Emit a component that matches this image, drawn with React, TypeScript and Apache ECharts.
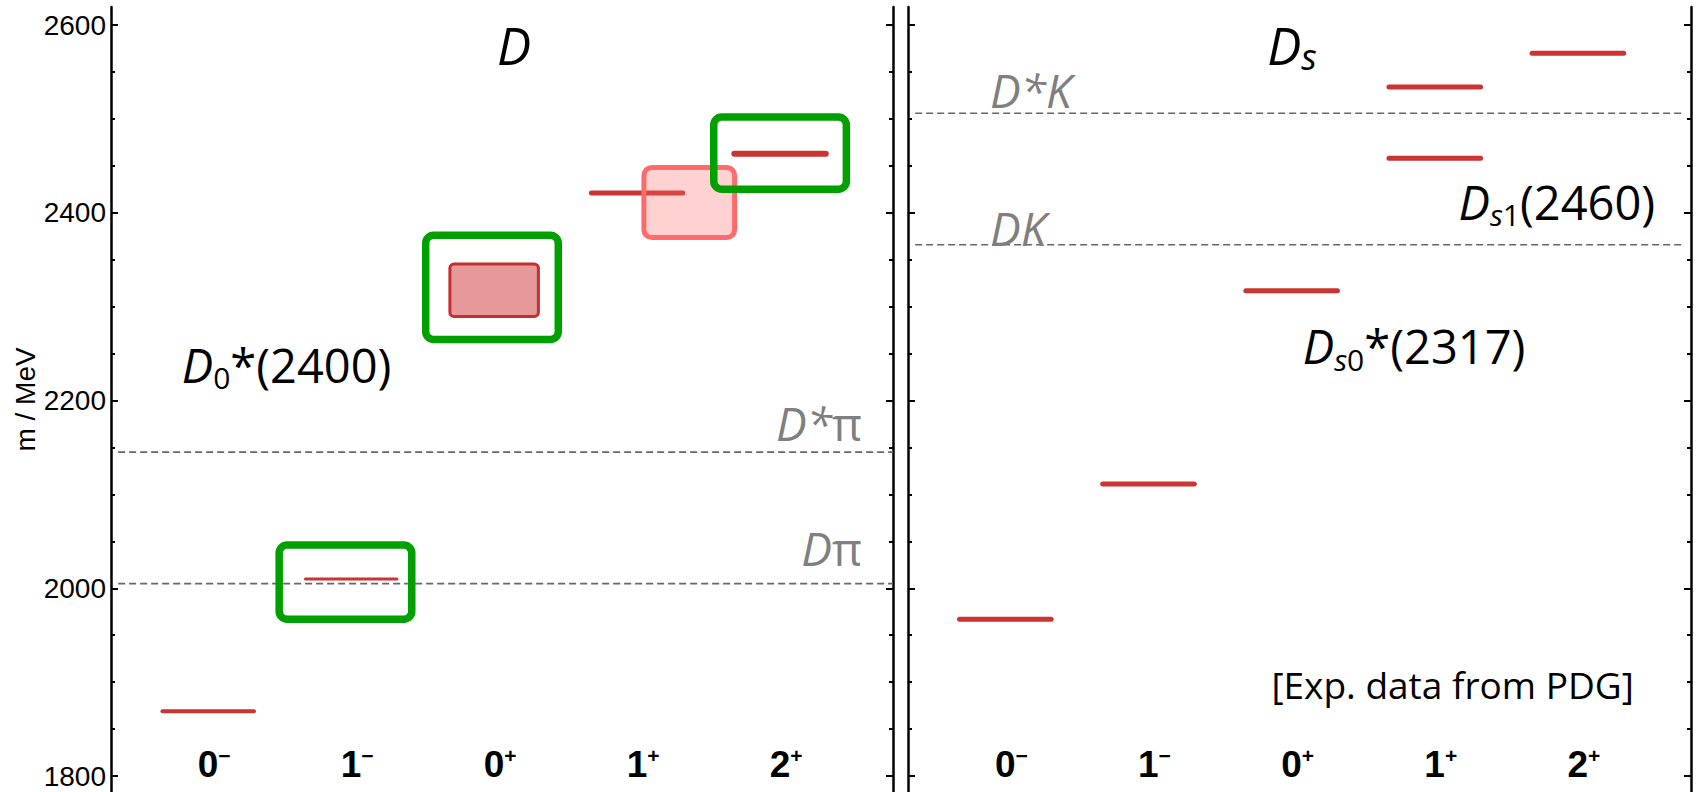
import React, { useEffect, useRef } from 'react';
import * as echarts from 'echarts';

// ---- categories (J^P) ----
const jpSpin = ['0', '1', '0', '1', '2'];
const jpParity = ['−', '−', '+', '+', '+'];
const jpIndex = [0, 1, 2, 3, 4];

// ---- axis ticks (MeV) ----
const yMajorTicks = [1800, 2000, 2200, 2400, 2600];
const yMinorTicks = [1850, 1900, 1950, 2050, 2100, 2150, 2250, 2300, 2350, 2450, 2500, 2550];

// ---- D mesons ----
const dLevelJP = [0, 1, 3, 4];
const dLevelMass = [1869, 2010, 2421, 2463];
// broad states drawn as mass bands: J^P-axis extent and mass extent
const dBandFrom = [1.68, 3.03];
const dBandTo = [2.32, 3.7];
const dBandLow = [2288, 2371];
const dBandHigh = [2347, 2451];
// highlighted states (green frames)
const dMarkJP = [0.96, 1.985, 4.0];
const dMarkLow = [1963, 2261, 2421];
const dMarkHigh = [2050, 2380, 2506];
// thresholds
const dThreshNames = ['{gi|D}{gn|π}', '{gi|D*}{gn|π}'];
const dThreshMass = [2005, 2145];

// ---- Ds mesons ----
const dsLevelJP = [0, 1, 2, 3, 3, 4];
const dsLevelMass = [1967, 2111, 2317, 2458, 2534, 2570];
const dsThreshNames = ['{gi|DK}', '{gi|D*K}'];
const dsThreshMass = [2366, 2506];

// ---- annotations ----
const dNotes = ['{i|D}{sub|0}{n|*(2400)}'];
const dsNotes = ['{i|D}{subi|s}{sub|0}{n|*(2317)}', '{i|D}{subi|s}{sub|1}{n|(2460)}', '{sm|[Exp. data from PDG]}'];
const panelTitles = ['{t|D}', '{t|D}{tsub|s}'];

// ---- layout / style (not data) ----
const X_MIN = -0.68;
const X_MAX = 4.79;
const Y_MIN = 1783;
const Y_MAX = 2619.2;
const LEVEL_HALF = 0.32;
const MARK_HALF = 0.49;
const RED = '#cc3333';
const GRAY = '#7f7f7f';
const SANS = 'Liberation Sans, Arial, sans-serif';
const TEXT_FONT = 'Open Sans, Noto Sans, sans-serif';
const dLevelWidth = [4, 3, 5, 6];
const dsLevelWidth = [5, 5, 5, 5, 5, 5];
const dBandFill = ['rgba(204,51,51,0.5)', 'rgba(255,102,102,0.3)'];
const dBandStroke = ['#c62f2f', '#ff6a6a'];
const dBandLine = [3, 5];
const dBandRadius = [4, 8];
const dThreshLabelAt = [[4.572, 2043], [4.572, 2176]];
const dsThreshLabelAt = [[-0.107, 2384], [-0.107, 2531]];
const dNoteAt = [[-0.185, 2238]];
const dsNoteAt = [[2.078, 2258], [3.166, 2412], [4.39, 1897]];
const dNoteAlign = ['left'];
const dsNoteAlign = ['left', 'left', 'right'];
const titleAt = [[2.02, 2579], [1.83, 2579]];

const tok = (size: number, lh: number, color: string, italic: boolean, va?: string) => {
  const s: any = { fontFamily: TEXT_FONT, fontSize: size, lineHeight: lh, fill: color, color };
  if (italic) s.fontStyle = 'italic';
  if (va) s.verticalAlign = va;
  return s;
};

const richText = {
  i: tok(47, 56, '#000', true),
  n: tok(47, 56, '#000', false),
  sub: tok(30, 23, '#000', false, 'bottom'),
  subi: tok(30, 23, '#000', true, 'bottom'),
  sm: tok(37, 46, '#000', false),
  t: tok(51, 60, '#000', true),
  tsub: tok(36, 26, '#000', true, 'bottom'),
  gi: tok(46, 56, GRAY, true),
  gn: tok(46, 56, GRAY, false),
};

function yAxes(g: number, withLabels: boolean) {
  const mk = (pos: string, major: boolean, labels: boolean) => ({
    type: 'value',
    gridIndex: g,
    position: pos,
    offset: 0,
    min: Y_MIN,
    max: Y_MAX,
    name: labels ? 'm / MeV' : '',
    nameLocation: 'middle',
    nameRotate: 90,
    nameGap: 72,
    nameTextStyle: { fontFamily: SANS, fontSize: 28, color: '#000' },
    axisLine: { show: major, onZero: false, lineStyle: { color: '#000', width: 2.5 } },
    axisTick: {
      show: true,
      inside: true,
      length: major ? 7 : 4,
      customValues: major ? yMajorTicks : yMinorTicks,
      lineStyle: { color: '#000', width: 2 },
    },
    axisLabel: {
      show: labels,
      customValues: yMajorTicks,
      margin: 5,
      fontFamily: SANS,
      fontSize: 28,
      color: '#000',
      formatter: (v: number) => String(Math.round(v)),
    },
    splitLine: { show: false },
  });
  return [
    mk('left', true, withLabels),
    mk('left', false, false),
    mk('right', true, false),
    mk('right', false, false),
  ];
}

function xAxis(g: number) {
  return {
    type: 'value',
    gridIndex: g,
    position: 'bottom',
    min: X_MIN,
    max: X_MAX,
    axisLine: { show: false, onZero: false },
    axisTick: { show: false },
    splitLine: { show: false },
    axisLabel: {
      show: true,
      inside: true,
      margin: 28,
      verticalAlign: 'middle',
      padding: [0, 0, 0, 12],
      customValues: jpIndex,
      formatter: (v: number) => {
        const k = Math.round(v);
        return `{d|${jpSpin[k]}}{s|${jpParity[k]}}`;
      },
      rich: {
        d: { fontFamily: SANS, fontSize: 37, fontWeight: 'bold', color: '#000', lineHeight: 38 },
        s: { fontFamily: SANS, fontSize: 21, fontWeight: 'bold', color: '#000', lineHeight: 18, verticalAlign: 'top' },
      },
    },
  };
}

function seg(api: any, x0: number, x1: number, m: number) {
  const a = api.coord([x0, m]);
  const b = api.coord([x1, m]);
  return { x1: a[0], y1: a[1], x2: b[0], y2: b[1] };
}

function thresholdSeries(g: number, mass: number[], x0: number, x1: number) {
  return {
    type: 'custom',
    xAxisIndex: g,
    yAxisIndex: g * 4,
    z: 2,
    silent: true,
    data: mass.map((m) => [x0, m]),
    renderItem: (_p: any, api: any) => ({
      type: 'line',
      shape: seg(api, x0, x1, api.value(1)),
      style: { stroke: '#666', lineWidth: 1.6, lineDash: [7, 4] },
    }),
  };
}

function levelSeries(g: number, jp: number[], mass: number[], widths: number[]) {
  return {
    type: 'custom',
    xAxisIndex: g,
    yAxisIndex: g * 4,
    z: 3,
    silent: true,
    data: jp.map((j, i) => [j, mass[i]]),
    renderItem: (p: any, api: any) => {
      const j = api.value(0);
      return {
        type: 'line',
        shape: seg(api, j - LEVEL_HALF, j + LEVEL_HALF, api.value(1)),
        style: { stroke: RED, lineWidth: widths[p.dataIndex], lineCap: 'round' },
      };
    },
  };
}

function rectFrom(api: any, x0: number, x1: number, lo: number, hi: number, lw: number) {
  const a = api.coord([x0, hi]);
  const b = api.coord([x1, lo]);
  return { x: a[0] + lw / 2, y: a[1] + lw / 2, width: b[0] - a[0] - lw, height: b[1] - a[1] - lw };
}

function textSeries(g: number, texts: string[], at: number[][], aligns: string[]) {
  return {
    type: 'custom',
    xAxisIndex: g,
    yAxisIndex: g * 4,
    z: 6,
    silent: true,
    data: at.map((p) => [p[0], p[1]]),
    renderItem: (p: any, api: any) => {
      const pt = api.coord([api.value(0), api.value(1)]);
      const i = p.dataIndex;
      const style: any = {
        text: texts[i],
        rich: richText,
        fontFamily: TEXT_FONT,
        fontSize: 46,
        align: aligns[i],
        textAlign: aligns[i],
        verticalAlign: 'middle',
        textVerticalAlign: 'middle',
      };
      return { type: 'text', x: pt[0], y: pt[1], style };
    },
  };
}

export default function App() {
  const ref = useRef<HTMLDivElement>(null);
  useEffect(() => {
    if (!ref.current) return;
    const chart = echarts.init(ref.current, undefined, { renderer: 'svg' });
    const option: any = {
      animation: false,
      backgroundColor: '#fff',
      grid: [
        { left: 111, top: 7, width: 782, height: 785, outerBoundsMode: 'none' },
        { left: 908, top: 7, width: 783, height: 785, outerBoundsMode: 'none' },
      ],
      xAxis: [xAxis(0), xAxis(1)],
      yAxis: [...yAxes(0, true), ...yAxes(1, false)],
      series: [
        thresholdSeries(0, dThreshMass, -0.63, X_MAX),
        thresholdSeries(1, dsThreshMass, -0.63, 4.745),
        levelSeries(0, dLevelJP, dLevelMass, dLevelWidth),
        levelSeries(1, dsLevelJP, dsLevelMass, dsLevelWidth),
        {
          type: 'custom',
          xAxisIndex: 0,
          yAxisIndex: 0,
          z: 4,
          silent: true,
          data: dBandFrom.map((f, i) => [f, dBandTo[i], dBandLow[i], dBandHigh[i]]),
          renderItem: (p: any, api: any) => {
            const i = p.dataIndex;
            const lw = dBandLine[i];
            return {
              type: 'rect',
              shape: { ...rectFrom(api, api.value(0), api.value(1), api.value(2), api.value(3), lw), r: dBandRadius[i] },
              style: { fill: dBandFill[i], stroke: dBandStroke[i], lineWidth: lw },
            };
          },
        },
        {
          type: 'custom',
          xAxisIndex: 0,
          yAxisIndex: 0,
          z: 5,
          silent: true,
          data: dMarkJP.map((j, i) => [j, dMarkLow[i], dMarkHigh[i]]),
          renderItem: (_p: any, api: any) => {
            const j = api.value(0);
            const lw = 7.5;
            return {
              type: 'rect',
              shape: { ...rectFrom(api, j - MARK_HALF, j + MARK_HALF, api.value(1), api.value(2), lw), r: 8 },
              style: { fill: 'none', stroke: '#00a000', lineWidth: lw },
            };
          },
        },
        textSeries(0, dThreshNames, dThreshLabelAt, ['right', 'right']),
        textSeries(1, dsThreshNames, dsThreshLabelAt, ['left', 'left']),
        textSeries(0, dNotes, dNoteAt, dNoteAlign),
        textSeries(1, dsNotes, dsNoteAt, dsNoteAlign),
        textSeries(0, [panelTitles[0]], [titleAt[0]], ['left']),
        textSeries(1, [panelTitles[1]], [titleAt[1]], ['left']),
      ],
    };
    chart.setOption(option);
    return () => chart.dispose();
  }, []);
  return (
    <div
      ref={ref}
      style={{ position: 'absolute', left: 0, top: 0, width: 1699, height: 792, background: '#fff' }}
    />
  );
}
